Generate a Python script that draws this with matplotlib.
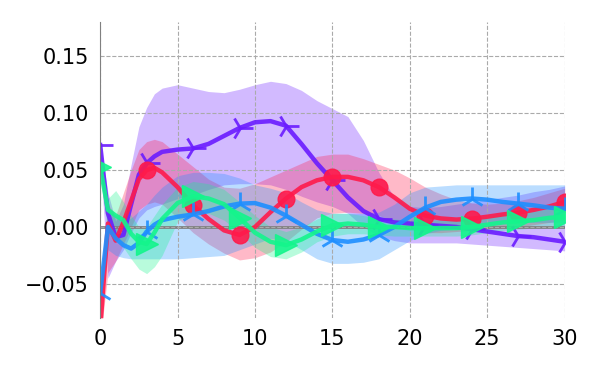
import matplotlib
matplotlib.use('Agg')
import matplotlib.pyplot as plt
import numpy as np

x = [0, 0.5, 1, 1.5, 2, 2.5, 3, 3.5, 4, 5, 6, 7, 8, 9, 10, 11, 12, 13, 14, 15,
     16, 17, 18, 19, 20, 21, 22, 23, 24, 25, 26, 27, 28, 29, 30]

purple = [0.072, 0.012, -0.009, -0.007, 0.020, 0.046, 0.056, 0.062, 0.066, 0.068, 0.069,
          0.073, 0.080, 0.087, 0.092, 0.093, 0.089, 0.073, 0.056, 0.041, 0.026, 0.014,
          0.007, 0.004, 0.003, 0.002, 0.001, 0.000, -0.002, -0.004, -0.006, -0.008,
          -0.009, -0.011, -0.013]
purple_hi = [0.075, 0.030, 0.005, 0.020, 0.055, 0.088, 0.105, 0.117, 0.122, 0.125, 0.122,
             0.119, 0.118, 0.121, 0.125, 0.128, 0.126, 0.120, 0.111, 0.104, 0.097, 0.076,
             0.048, 0.026, 0.018, 0.017, 0.018, 0.020, 0.022, 0.024, 0.026, 0.028,
             0.031, 0.033, 0.036]
purple_lo = [0.060, -0.045, -0.030, -0.020, -0.005, 0.008, 0.015, 0.018, 0.020, 0.025, 0.028,
             0.033, 0.037, 0.038, 0.038, 0.037, 0.033, 0.027, 0.022, 0.018, 0.012, 0.000,
             -0.008, -0.012, -0.014, -0.014, -0.014, -0.014, -0.015, -0.016, -0.017, -0.018,
             -0.019, -0.020, -0.021]

red = [-0.090, 0.003, -0.012, 0.004, 0.023, 0.042, 0.050, 0.052, 0.048, 0.035, 0.019,
       0.007, -0.003, -0.007, 0.000, 0.013, 0.025, 0.035, 0.041, 0.044, 0.044, 0.041,
       0.035, 0.026, 0.016, 0.010, 0.0075, 0.0065, 0.0073, 0.009, 0.011, 0.0125,
       0.015, 0.018, 0.022]
red_hi = [-0.050, 0.020, 0.010, 0.030, 0.050, 0.068, 0.075, 0.077, 0.075, 0.064, 0.053,
          0.042, 0.035, 0.034, 0.038, 0.044, 0.050, 0.056, 0.062, 0.064, 0.064, 0.060,
          0.055, 0.050, 0.043, 0.035, 0.029, 0.024, 0.021, 0.020, 0.021, 0.023,
          0.026, 0.030, 0.034]
red_lo = [-0.100, -0.040, -0.030, -0.015, 0.000, 0.015, 0.020, 0.022, 0.020, 0.008, -0.005,
          -0.015, -0.023, -0.029, -0.027, -0.022, -0.013, -0.002, 0.008, 0.012, 0.013, 0.012,
          0.010, 0.005, 0.000, -0.005, -0.005, -0.004, -0.003, -0.002, -0.001, 0.000,
          0.002, 0.004, 0.006]

blue = [-0.058, 0.000, -0.010, -0.016, -0.019, -0.014, -0.004, 0.002, 0.006, 0.009, 0.011,
        0.014, 0.018, 0.0205, 0.021, 0.017, 0.010, 0.002, -0.006, -0.0115, -0.013, -0.011,
        -0.007, 0.000, 0.009, 0.017, 0.022, 0.024, 0.025, 0.024, 0.022, 0.0205,
        0.019, 0.017, 0.016]
blue_hi = [-0.045, 0.015, 0.010, 0.005, 0.008, 0.014, 0.020, 0.028, 0.035, 0.045, 0.048,
           0.048, 0.047, 0.043, 0.037, 0.034, 0.030, 0.022, 0.015, 0.012, 0.012, 0.012,
           0.013, 0.020, 0.030, 0.035, 0.036, 0.037, 0.037, 0.037, 0.037, 0.037,
           0.037, 0.037, 0.037]
blue_lo = [-0.070, -0.020, -0.025, -0.027, -0.028, -0.028, -0.028, -0.028, -0.028, -0.028, -0.027,
           -0.026, -0.025, -0.020, -0.015, -0.010, -0.012, -0.020, -0.028, -0.032, -0.032, -0.031,
           -0.028, -0.020, -0.012, -0.006, -0.003, -0.002, 0.000, 0.002, 0.003, 0.004,
           0.004, 0.004, 0.004]

green = [0.053, 0.015, 0.010, 0.006, -0.006, -0.013, -0.015, -0.005, 0.007, 0.021, 0.027,
         0.025, 0.020, 0.008, -0.005, -0.013, -0.016, -0.011, -0.004, 0.0015, 0.003, 0.002,
         0.000, 0.000, -0.001, -0.001, -0.001, -0.001, 0.000, 0.002, 0.004, 0.005,
         0.006, 0.008, 0.009]
green_hi = [0.060, 0.025, 0.032, 0.022, 0.010, 0.000, 0.000, 0.010, 0.020, 0.035, 0.040,
            0.038, 0.033, 0.022, 0.010, 0.000, -0.004, 0.000, 0.007, 0.012, 0.012, 0.010,
            0.008, 0.007, 0.006, 0.006, 0.006, 0.006, 0.007, 0.009, 0.011, 0.013,
            0.014, 0.016, 0.018]
green_lo = [0.045, -0.005, -0.010, -0.018, -0.028, -0.037, -0.041, -0.035, -0.025, 0.005, 0.013,
            0.012, 0.006, -0.005, -0.018, -0.026, -0.028, -0.022, -0.013, -0.008, -0.006, -0.006,
            -0.007, -0.008, -0.008, -0.008, -0.008, -0.008, -0.007, -0.005, -0.003, -0.002,
            -0.001, 0.000, 0.001]

series = [
    (purple, purple_lo, purple_hi, '#6a1cff', '4'),
    (red, red_lo, red_hi, '#ff1a4b', 'o'),
    (blue, blue_lo, blue_hi, '#1e8fff', '2'),
    (green, green_lo, green_hi, '#14f58c', '>'),
]

marks = [i for i, t in enumerate(x) if t % 3 == 0]

fig = plt.figure(figsize=(6, 3.75), dpi=100)
ax = fig.add_axes([0.167, 0.152, 0.774, 0.789])

for mean, lo, hi, col, mk in series:
    ax.fill_between(x, lo, hi, color=col, alpha=0.3, linewidth=0)
ax.axhline(0, color='gray', lw=2, zorder=1.5)
for mean, lo, hi, col, mk in series:
    if mk in ('4', '2'):
        ax.plot(x, mean, color=col, lw=3.2, marker=mk, markevery=marks,
                markersize=18, markeredgewidth=2, alpha=0.9)
    else:
        ax.plot(x, mean, color=col, lw=3.2, marker=mk, markevery=marks,
                markersize=12 if mk == 'o' else 16, alpha=0.9)

ax.set_xlim(0, 30)
ax.set_ylim(-0.08, 0.18)
ax.set_xticks([0, 5, 10, 15, 20, 25, 30])
ax.set_yticks([-0.05, 0.0, 0.05, 0.10, 0.15])
ax.grid(True, linestyle='--', color='#aaaaaa', lw=0.8)
for s in ['top', 'right', 'bottom']:
    ax.spines[s].set_visible(False)
ax.spines['left'].set_color('gray')
ax.tick_params(length=0, labelsize=15, pad=8)

fig.savefig('out.png', dpi=100)
